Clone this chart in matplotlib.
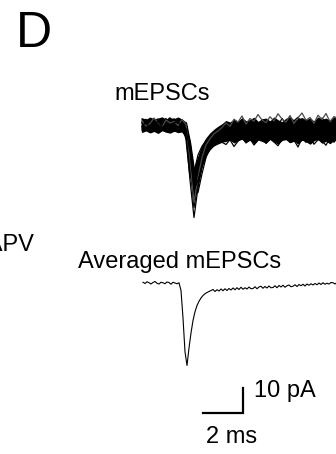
"""mEPSC traces: overlaid single events and their average, with a scale bar."""

import matplotlib.pyplot as plt
import numpy as np

plt.rcParams["font.family"] = ["Liberation Sans", "DejaVu Sans"]

W_PX, H_PX = 336, 454
DPI = 100

# single events, sampled every 0.2 ms (pA)
EVENT_DT_MS = 0.2
EVENT_TRACES = [
    [1.2, -0.8, 2.1, 0.4, -1.9, 1.5, 2.6, -0.5, 0.9, -1.4, 0.7,
     -3.5, -22.0, -37.0, -25.0, -16.5, -11.5, -8.8, -7.0, -5.6, -4.7,
     -3.6, -4.4, -2.1, -3.8, -1.5, -2.9, -0.6, -2.4, -3.9, -1.2,
     -2.7, 0.5, -1.8, -3.3, -0.9, -2.2, 0.8, -1.6, -2.9, -0.4,
     -1.9, 1.1, -2.5, -0.7, -1.4, 0.9, -2.0, -0.3, -1.1, 0.6],
    [-1.5, 0.6, -2.3, 1.8, -0.4, 2.2, -1.1, 0.3, -2.6, 1.0, -0.7,
     -1.2, -16.0, -33.0, -23.5, -15.0, -10.5, -8.5, -6.3, -5.9, -4.1,
     -5.2, -3.0, -4.6, -2.2, -3.7, -5.0, -1.8, -3.4, -2.6, -4.3,
     -1.5, -3.1, -4.0, -2.0, -3.6, -1.3, -2.8, -4.2, -1.9, -3.0,
     -2.4, -0.8, -3.3, -1.7, -2.5, -0.9, -2.1, -3.0, -1.2, -2.3],
    [2.4, 0.1, 1.3, -1.0, 0.8, -2.0, 1.6, 2.9, 0.2, -0.9, 1.9,
     -0.5, -12.0, -30.0, -22.0, -14.0, -9.5, -6.5, -4.9, -3.5, -3.9,
     -1.6, -2.8, -0.2, -1.9, 1.4, -0.8, -2.3, 0.6, -1.1, 2.0,
     -0.5, -1.7, 1.2, -0.3, 2.6, 0.4, -1.0, 1.7, 3.1, 0.9,
     -0.6, 2.2, 1.0, -0.4, 2.8, 0.7, 1.9, -0.2, 1.4, 2.5],
    [-0.3, -2.1, 0.9, -1.3, 2.0, 0.5, -0.8, -2.4, 1.1, 0.0, -1.6,
     0.4, -8.0, -28.0, -24.0, -16.0, -11.0, -8.0, -6.1, -4.6, -5.2,
     -3.1, -4.8, -2.6, -5.5, -3.9, -2.2, -4.7, -6.0, -3.3, -4.9,
     -2.8, -5.6, -3.5, -4.1, -6.2, -3.0, -4.5, -2.7, -5.1, -3.6,
     -4.4, -2.5, -5.3, -3.2, -6.1, -4.0, -2.9, -4.8, -3.4, -5.0],
    [0.9, 2.3, -0.6, 1.4, -1.7, 0.2, 1.0, -1.2, 2.5, 0.6, 0.1,
     -0.8, -6.5, -19.0, -27.0, -19.5, -13.0, -9.0, -6.5, -5.0, -4.2,
     -2.5, -1.0, -3.4, 0.2, -2.0, -0.9, -3.1, -1.4, 0.6, -2.7,
     -0.5, -1.8, -3.5, -0.1, -2.2, 1.0, -1.3, -2.8, 0.3, -1.6,
     -0.4, -2.3, 0.9, -1.1, -2.6, 0.2, -1.5, -0.6, -2.1, 0.4],
    [-2.0, -0.5, 1.2, -1.8, 0.3, -0.2, -2.7, 0.7, -0.6, 1.5, -1.1,
     -2.0, -18.0, -25.0, -17.0, -11.5, -8.0, -6.2, -5.0, -4.4, -3.1,
     -4.0, -2.3, -5.1, -3.6, -1.7, -4.2, -2.9, -5.4, -1.9, -3.8,
     -6.0, -2.4, -4.6, -3.1, -5.7, -2.0, -3.9, -5.2, -1.6, -4.4,
     -7.0, -3.3, -4.9, -2.6, -5.8, -3.7, -2.1, -4.5, -6.3, -3.0],
    [0.5, 1.7, -1.4, 0.0, 2.4, -0.7, 0.4, 1.8, -1.5, 2.7, 0.3,
     1.0, -9.0, -23.0, -18.0, -12.5, -9.0, -6.5, -4.8, -3.9, -2.6,
     -1.0, -2.2, 0.4, -1.5, -0.2, -2.6, -0.9, 1.1, -1.8, -0.3,
     -2.1, 0.8, -1.2, -2.9, -0.6, 1.5, -1.0, -2.4, 0.1, -1.3,
     2.0, -0.7, -1.9, 0.5, -0.9, 1.6, -1.4, 0.2, -0.8, 1.3],
    [-1.0, 0.8, -0.2, 2.0, -1.4, 1.1, -0.3, -1.9, 0.6, -0.8, 0.9,
     -6.0, -21.0, -19.0, -12.0, -8.5, -6.3, -5.2, -4.0, -3.3, -2.9,
     -3.7, -1.9, -4.5, -2.6, -0.8, -3.2, -5.1, -2.0, -3.9, -1.2,
     -4.3, -2.7, -6.4, -3.0, -1.5, -4.8, -2.2, -3.5, -7.5, -4.0,
     -2.4, -5.6, -3.1, -1.8, -4.6, -2.9, -6.8, -3.3, -2.0, -4.2],
    [1.7, -0.4, 0.6, 2.8, 1.0, -0.9, 2.0, 0.8, 1.4, -0.2, 2.2,
     0.2, -14.0, -31.0, -21.0, -13.0, -8.0, -5.5, -3.5, -2.4, -1.0,
     0.8, -0.5, 2.3, 1.1, 3.6, 0.4, 2.6, 1.5, 4.2, 2.0,
     0.9, 3.3, 1.6, 4.5, 2.4, 1.2, 3.8, 0.6, 2.9, 4.8,
     1.9, 3.0, 0.7, 3.9, 2.2, 4.6, 1.3, 3.4, 2.5, 4.1],
    [-0.6, 1.3, -1.8, -0.1, 1.6, -1.0, 0.2, -2.2, 0.9, 1.2, -0.4,
     -1.5, -11.0, -26.0, -22.0, -16.5, -12.5, -10.0, -8.4, -7.6, -6.9,
     -7.8, -5.9, -8.6, -6.5, -4.8, -7.2, -5.5, -8.0, -6.1, -4.9,
     -7.4, -5.2, -6.8, -8.3, -5.7, -4.5, -7.0, -6.0, -8.8, -5.3,
     -6.6, -4.7, -7.7, -5.9, -6.4, -8.1, -5.0, -6.9, -4.6, -7.3],
]
EVENT_COLORS = ["black"] * 8 + ["#4a4a4a", "black"]

# where the overlaid events pile up into a solid band (pA, same 0.2 ms grid)
BAND_UPPER = [
    2.6, 2.0, 2.9, 2.2, 2.5, 3.0, 1.9, 2.7, 2.3, 2.9, 2.1,
    0.8, -7.0, -18.0, -13.0, -8.5, -5.5, -3.5, -2.0, -0.8, 0.2,
    1.5, 0.9, 2.1, 1.2, 2.6, 1.4, 1.9, 2.8, 1.1, 2.2,
    2.5, 1.3, 2.9, 1.8, 1.0, 2.4, 3.1, 1.6, 2.3, 2.7,
    1.7, 2.6, 1.2, 2.9, 2.0, 2.5, 1.4, 3.0, 2.1, 2.4,
]
BAND_LOWER = [
    -2.7, -2.1, -2.9, -2.3, -3.1, -2.0, -2.6, -3.0, -2.2, -2.8, -2.5,
    -4.8, -20.0, -28.0, -22.5, -16.0, -11.5, -9.0, -7.8, -7.0, -6.6,
    -6.3, -5.6, -6.9, -6.0, -5.4, -6.7, -5.8, -7.2, -5.7, -6.3,
    -6.9, -5.5, -6.6, -7.3, -5.9, -5.6, -6.8, -6.2, -7.1, -5.8,
    -6.4, -7.4, -6.0, -5.5, -7.0, -6.2, -7.2, -5.7, -6.6, -6.1,
]

# averaged event, sampled every 0.1 ms (pA)
AVG_DT_MS = 0.1
AVG_TRACE = [
    0.3, -0.2, 0.5, 0.1, -0.4, 0.2, 0.6, -0.1, -0.4, 0.3,
    0.1, -0.3, 0.4, 0.2, -0.5, 0.3, 0.0, -0.3, 0.1,
    -3.0, -14.0, -27.5, -33.0, -26.0, -20.0, -15.0, -11.5, -9.0, -7.3,
    -6.0, -5.0, -4.3, -3.8, -3.4, -3.0,
    -2.6, -3.4, -2.7, -3.2, -2.4, -3.1, -2.3, -3.0, -2.2, -2.8,
    -2.0, -2.7, -1.9, -2.6, -1.7, -2.5, -1.9, -2.4, -1.6, -2.3,
    -2.2, -1.5, -2.3, -1.6, -1.3, -2.1, -1.4, -2.0, -1.2, -1.9,
    -1.8, -1.1, -1.9, -1.0, -1.6, -0.9, -1.7, -1.1, -0.8, -1.5,
    -1.3, -0.7, -1.4, -0.6, -1.1, -0.5, -1.2, -0.4, -0.9, -0.3,
    -0.8, -0.2, -0.7, 0.0, -0.6, 0.1, -0.5, -0.1, -0.4, 0.2,
    0.1, -0.4, 0.2, -0.3, 0.3, -0.1,
]

SCALE_MS = 2.0
SCALE_PA = 10.0

PX_PER_MS = 20.0
PX_PER_PA = 2.5


def trace_axes(fig, t0_px, base_px):
    # full-figure axes whose data units map to fixed pixel sizes
    ax = fig.add_axes([0, 0, 1, 1])
    ax.set_xlim(-t0_px / PX_PER_MS, (W_PX - t0_px) / PX_PER_MS)
    ax.set_ylim((base_px - H_PX) / PX_PER_PA, base_px / PX_PER_PA)
    ax.set_axis_off()
    ax.patch.set_alpha(0)
    return ax


def fig_xy(x_px, y_px):
    return x_px / W_PX, 1 - y_px / H_PX


fig = plt.figure(figsize=(W_PX / DPI, H_PX / DPI), dpi=DPI)

ax_top = trace_axes(fig, 142, 125)
t_band = np.arange(len(BAND_UPPER)) * EVENT_DT_MS
ax_top.fill_between(t_band, BAND_LOWER, BAND_UPPER, color="black", linewidth=1.0)
for trace, color in zip(EVENT_TRACES, EVENT_COLORS):
    t = np.arange(len(trace)) * EVENT_DT_MS
    ax_top.plot(t, trace, color=color, linewidth=0.9)

ax_avg = trace_axes(fig, 143, 283)
t_avg = np.arange(len(AVG_TRACE)) * AVG_DT_MS
ax_avg.plot(t_avg, AVG_TRACE, color="black", linewidth=0.8)

# scale bar: corner at 5 ms, -52 pA
bar_t, bar_i = 5.0, -52.0
ax_avg.plot(
    [bar_t - SCALE_MS, bar_t, bar_t],
    [bar_i, bar_i, bar_i + SCALE_PA],
    color="black",
    linewidth=1.6,
    solid_joinstyle="miter",
)

fig.text(*fig_xy(16, 47), "D", fontsize=36, va="baseline", ha="left")
fig.text(*fig_xy(114, 100), "mEPSCs", fontsize=17, va="baseline", ha="left")
fig.text(*fig_xy(34, 251), "D-APV", fontsize=17, va="baseline", ha="right")
fig.text(*fig_xy(78, 268), "Averaged mEPSCs", fontsize=17, va="baseline", ha="left")
fig.text(*fig_xy(254, 397), f"{SCALE_PA:.0f} pA", fontsize=17, va="baseline", ha="left")
fig.text(*fig_xy(206, 443), f"{SCALE_MS:.0f} ms", fontsize=17, va="baseline", ha="left")

fig.savefig("out.png", dpi=DPI, facecolor="white")
